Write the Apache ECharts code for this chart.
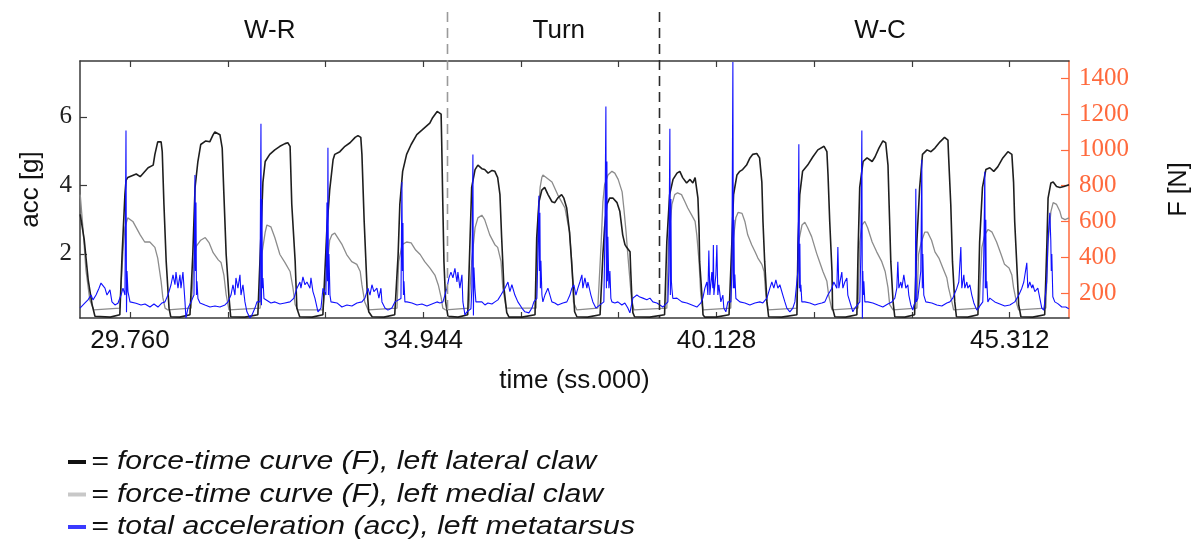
<!DOCTYPE html>
<html>
<head>
<meta charset="utf-8">
<script src="https://cdn.jsdelivr.net/npm/echarts@6/dist/echarts.min.js"></script>
<style>
  html, body { margin: 0; padding: 0; background: #fff; }
  #chart { width: 1192px; height: 546px; }
</style>
</head>
<body>
<div id="chart"></div>
<script>
// time axis (s) and ticks
const timeMin = 28.876, timeMax = 46.36;
const timeTicks = [29.760, 31.488, 33.216, 34.944, 36.672, 38.400, 40.128, 41.856, 43.584, 45.312];
const timeLabels = [29.760, 34.944, 40.128, 45.312];
const accTicks = [2, 4, 6];
const forceTicks = [200, 400, 600, 800, 1000, 1200, 1400];

// phases of the walk
const phaseNames = ['W-R', 'Turn', 'W-C'];
const phaseCenters = [32.23, 37.34, 43.02];
const phaseBounds = [35.37, 39.12];

// force-time curve (F, N), left lateral claw
const lateralForce = [
  [28.88,640],[28.95,500],[29.02,275],[29.09,135],[29.14,70],[29.41,65],
  [29.58,78],[29.62,415],[29.67,750],[29.69,830],[29.72,845],[29.87,865],[29.94,850],[30.08,900],[30.17,915],[30.20,975],[30.25,1045],[30.31,1045],[30.33,990],[30.36,695],[30.40,375],[30.45,115],[30.48,67],[30.64,65],
  [30.82,78],[30.87,415],[30.91,790],[30.96,935],[31.01,1030],[31.10,1050],[31.17,1045],[31.23,1085],[31.26,1100],[31.35,1085],[31.39,1010],[31.42,750],[31.46,415],[31.51,175],[31.54,67],[31.79,65],
  [32.02,78],[32.07,485],[32.11,820],[32.15,935],[32.23,975],[32.32,1000],[32.41,1020],[32.50,1035],[32.55,1040],[32.59,1020],[32.62,695],[32.68,375],[32.71,115],[32.76,67],[32.98,65],
  [33.17,78],[33.24,555],[33.29,775],[33.35,945],[33.38,975],[33.47,990],[33.56,1020],[33.65,1040],[33.74,1070],[33.79,1080],[33.84,1070],[33.86,975],[33.90,600],[33.95,230],[33.98,95],[34.04,67],[34.25,65],
  [34.44,78],[34.50,415],[34.53,695],[34.58,880],[34.65,975],[34.73,1030],[34.83,1085],[34.92,1110],[34.99,1130],[35.06,1150],[35.11,1180],[35.19,1215],[35.22,1225],[35.26,1200],[35.27,1045],[35.29,695],[35.31,375],[35.34,150],[35.38,70],[35.56,65],
  [35.73,78],[35.77,485],[35.80,790],[35.86,890],[35.91,915],[35.98,895],[36.03,890],[36.09,870],[36.16,885],[36.21,880],[36.26,845],[36.30,750],[36.33,510],[36.37,230],[36.42,90],[36.46,65],[36.69,65],
  [36.92,78],[36.95,510],[36.99,710],[37.04,775],[37.09,790],[37.15,750],[37.22,710],[37.27,705],[37.32,730],[37.39,750],[37.43,730],[37.48,675],[37.53,540],[37.59,265],[37.62,95],[37.66,67],[37.85,65],
  [38.07,78],[38.12,415],[38.15,565],[38.19,695],[38.24,730],[38.30,730],[38.37,705],[38.42,655],[38.47,525],[38.51,470],[38.54,455],[38.60,430],[38.61,340],[38.63,190],[38.65,90],[38.68,67],[38.95,65],
  [39.21,78],[39.25,485],[39.30,750],[39.36,835],[39.43,870],[39.48,880],[39.53,845],[39.60,815],[39.66,835],[39.71,815],[39.75,845],[39.78,835],[39.80,730],[39.82,565],[39.83,375],[39.87,190],[39.89,78],[39.92,65],[40.12,65],
  [40.35,78],[40.40,485],[40.43,750],[40.49,860],[40.54,880],[40.59,890],[40.66,915],[40.72,955],[40.77,975],[40.84,980],[40.89,955],[40.93,820],[40.95,600],[40.98,375],[41.02,150],[41.05,67],[41.28,65],
  [41.55,78],[41.57,485],[41.60,750],[41.65,880],[41.74,915],[41.83,960],[41.92,1000],[41.95,1000],[42.03,1020],[42.08,990],[42.10,860],[42.13,600],[42.17,320],[42.18,115],[42.22,67],[42.41,65],
  [42.61,78],[42.63,415],[42.66,790],[42.72,935],[42.79,955],[42.88,935],[42.93,960],[43.00,1010],[43.07,1050],[43.12,1040],[43.16,915],[43.18,695],[43.21,375],[43.25,150],[43.28,67],[43.46,65],
  [43.63,78],[43.67,485],[43.72,790],[43.77,975],[43.85,1000],[43.92,990],[43.99,1010],[44.08,1045],[44.16,1070],[44.22,1055],[44.23,975],[44.27,695],[44.30,375],[44.34,150],[44.37,67],[44.57,65],
  [44.75,78],[44.78,485],[44.83,790],[44.89,890],[44.96,900],[45.03,880],[45.10,905],[45.19,955],[45.28,990],[45.31,1000],[45.35,975],[45.38,820],[45.40,600],[45.44,340],[45.47,135],[45.51,67],[45.72,65],
  [45.93,78],[45.97,485],[45.99,730],[46.04,815],[46.08,820],[46.14,795],[46.20,790],[46.27,795],[46.36,805]
];

// force-time curve (F, N), left medial claw
const medialForce = [
  [28.88,750],[28.93,555],[28.98,330],[29.05,160],[29.12,105],
  [29.58,115],[29.64,455],[29.67,565],[29.72,620],[29.81,600],[29.94,525],[30.02,485],[30.11,485],[30.20,455],[30.25,395],[30.31,265],[30.34,175],[30.38,115],[30.43,105],
  [30.84,115],[30.89,375],[30.93,460],[31.01,495],[31.09,510],[31.16,480],[31.23,425],[31.32,385],[31.37,370],[31.42,300],[31.46,190],[31.51,105],
  [32.06,115],[32.09,415],[32.15,540],[32.18,580],[32.25,570],[32.32,510],[32.41,415],[32.50,370],[32.59,320],[32.64,230],[32.68,135],[32.73,105],
  [33.17,105],[33.24,330],[33.29,495],[33.33,525],[33.38,535],[33.51,470],[33.59,415],[33.68,375],[33.77,360],[33.83,320],[33.86,245],[33.91,150],[33.97,105],
  [34.48,115],[34.51,375],[34.57,470],[34.65,485],[34.73,480],[34.81,440],[34.89,415],[34.97,375],[35.06,340],[35.15,300],[35.21,245],[35.26,175],[35.29,115],[35.34,105],
  [35.75,115],[35.80,375],[35.86,565],[35.91,620],[35.98,635],[36.03,610],[36.12,525],[36.21,470],[36.26,455],[36.32,375],[36.35,230],[36.41,115],[36.44,105],
  [36.94,115],[36.97,600],[37.01,790],[37.04,845],[37.06,860],[37.09,850],[37.22,820],[37.32,750],[37.45,675],[37.53,540],[37.57,375],[37.60,150],[37.66,105],
  [38.03,115],[38.09,485],[38.12,710],[38.15,805],[38.21,860],[38.28,880],[38.33,870],[38.39,835],[38.46,765],[38.49,675],[38.53,540],[38.56,415],[38.60,265],[38.63,150],[38.67,105],
  [39.25,115],[39.28,485],[39.34,695],[39.39,750],[39.44,760],[39.51,750],[39.57,710],[39.62,675],[39.69,635],[39.75,600],[39.78,525],[39.82,375],[39.85,190],[39.89,105],
  [40.38,115],[40.42,485],[40.47,620],[40.51,650],[40.58,645],[40.63,600],[40.68,525],[40.75,470],[40.81,430],[40.86,395],[40.93,360],[40.97,320],[41.00,190],[41.04,105],
  [41.55,115],[41.58,485],[41.64,580],[41.69,595],[41.74,565],[41.81,515],[41.90,420],[41.95,375],[42.01,320],[42.08,265],[42.11,190],[42.17,105],
  [42.63,115],[42.66,485],[42.70,580],[42.75,600],[42.80,565],[42.88,485],[42.96,430],[43.05,375],[43.11,320],[43.16,230],[43.19,135],[43.25,105],
  [43.67,115],[43.70,415],[43.75,485],[43.81,540],[43.86,540],[43.93,495],[43.99,430],[44.06,395],[44.13,340],[44.20,285],[44.23,230],[44.29,150],[44.32,105],
  [44.77,115],[44.82,455],[44.87,525],[44.93,555],[45.00,540],[45.08,485],[45.16,415],[45.22,360],[45.30,340],[45.35,300],[45.38,230],[45.44,135],[45.47,105],
  [45.95,115],[45.99,485],[46.04,655],[46.08,705],[46.14,695],[46.20,655],[46.23,620],[46.29,610],[46.36,620]
];

// total acceleration (acc, g), left metatarsus
const accTotal = [
  [28.876,0.42],[28.894,0.45],[28.964,0.57],[29.017,0.66],[29.071,0.80],[29.106,0.66],[29.159,0.80],[29.212,1.0],[29.247,1.15],[29.282,1.10],[29.317,1.0],[29.353,0.80],[29.406,0.95],[29.441,0.60],[29.494,0.51],[29.547,0.56],[29.601,0.80],[29.636,1.0],[29.671,0.8],
  [29.689,5.6],[29.698,0.3],[29.707,1.5],[29.724,0.9],[29.760,0.6],[29.866,0.56],[29.954,0.51],[30.025,0.54],[30.113,0.45],[30.184,0.54],[30.254,0.45],[30.325,0.57],[30.378,0.6],[30.431,0.8],
  [30.485,1.1],[30.520,1.39],[30.555,1.1],[30.573,1.47],[30.608,1.0],[30.643,1.39],[30.661,1.0],[30.696,1.47],[30.732,0.6],[30.749,0.13],[30.785,0.42],[30.838,0.6],[30.891,0.8],
  [30.908,4.3],[30.917,1.5],[30.926,3.5],[30.935,0.8],[30.944,1.2],[30.961,0.7],[30.997,0.57],[31.085,0.51],[31.174,0.45],[31.262,0.48],[31.350,0.45],[31.439,0.51],[31.492,0.6],[31.545,0.8],
  [31.580,1.1],[31.615,0.8],[31.633,1.3],[31.668,1.0],[31.704,1.39],[31.722,0.8],[31.757,1.1],[31.792,0.6],[31.827,0.31],[31.881,0.13],[31.916,0.22],[31.969,0.42],[32.004,0.6],[32.057,0.6],
  [32.075,5.8],[32.084,0.5],[32.092,3.6],[32.101,1.0],[32.110,1.3],[32.128,0.7],[32.163,0.66],[32.252,0.57],[32.322,0.6],[32.411,0.54],[32.499,0.57],[32.588,0.6],[32.658,0.71],[32.711,1.0],
  [32.764,1.18],[32.782,1.0],[32.817,1.33],[32.853,1.1],[32.888,1.18],[32.941,1.0],[32.959,1.3],[32.994,0.9],[33.029,0.71],[33.083,0.31],[33.136,0.42],[33.171,1.0],[33.224,0.8],
  [33.242,3.5],[33.251,1.2],[33.259,5.1],[33.268,0.8],[33.277,2.0],[33.295,0.8],[33.313,0.6],[33.330,0.6],[33.419,0.57],[33.506,0.45],[33.595,0.51],[33.683,0.48],[33.772,0.57],[33.860,0.6],[33.913,0.71],
  [33.966,1.0],[34.002,0.8],[34.037,1.1],[34.072,0.9],[34.125,1.0],[34.160,0.71],[34.196,1.0],[34.214,0.6],[34.267,0.42],[34.320,0.36],[34.390,0.42],[34.443,0.6],[34.550,0.7],
  [34.567,4.1],[34.576,1.5],[34.585,2.9],[34.594,0.8],[34.603,1.2],[34.620,0.6],[34.656,0.6],[34.744,0.57],[34.833,0.51],[34.921,0.54],[35.009,0.48],[35.098,0.54],[35.186,0.6],[35.239,0.57],[35.292,0.6],
  [35.363,1.0],[35.398,1.3],[35.434,1.47],[35.469,1.3],[35.504,1.58],[35.540,1.18],[35.557,1.47],[35.592,1.0],[35.628,1.39],[35.645,0.6],[35.681,0.22],[35.716,0.31],[35.787,0.4],[35.804,1.0],
  [35.822,4.9],[35.831,0.2],[35.840,1.6],[35.857,1.0],[35.875,0.6],[35.910,0.57],[35.981,0.6],[36.034,0.51],[36.087,0.57],[36.158,0.54],[36.211,0.6],[36.264,0.66],[36.317,0.8],
  [36.388,1.0],[36.441,1.18],[36.476,0.9],[36.511,1.1],[36.564,0.8],[36.617,0.6],[36.688,0.42],[36.741,0.31],[36.812,0.28],[36.865,0.42],[36.900,0.6],[36.953,0.7],
  [36.971,2.0],[36.989,3.7],[36.998,1.5],[37.006,3.2],[37.015,1.0],[37.024,1.8],[37.042,0.8],[37.059,0.6],[37.095,0.8],[37.148,1.0],[37.218,0.6],[37.271,0.57],[37.324,0.51],[37.413,0.57],[37.483,0.6],[37.537,0.8],
  [37.572,1.0],[37.607,1.1],[37.643,0.8],[37.678,1.0],[37.713,1.18],[37.749,1.39],[37.766,1.0],[37.802,1.3],[37.837,1.0],[37.855,1.18],[37.908,0.8],[37.943,0.6],[37.996,0.42],[38.031,0.45],[38.137,0.6],
  [38.155,2.5],[38.173,6.3],[38.182,1.0],[38.191,4.7],[38.199,1.2],[38.208,2.5],[38.226,1.0],[38.244,1.5],[38.261,0.7],[38.279,0.6],[38.332,0.57],[38.385,0.6],[38.455,0.51],[38.508,0.57],[38.561,0.42],[38.597,0.28],
  [38.650,0.71],[38.721,0.8],[38.774,0.74],[38.827,0.71],[38.897,0.66],[38.951,0.71],[39.004,0.6],[39.074,0.57],[39.127,0.51],[39.180,0.45],[39.269,0.6],
  [39.286,1.5],[39.304,5.65],[39.313,0.8],[39.322,3.6],[39.331,1.2],[39.339,1.0],[39.357,0.7],[39.428,0.71],[39.516,0.6],[39.605,0.57],[39.693,0.51],[39.782,0.45],[39.852,0.57],[39.887,0.71],
  [39.923,1.0],[39.958,1.18],[39.976,0.8],[39.993,2.1],[40.011,0.8],[40.046,1.47],[40.064,1.0],[40.073,2.26],[40.082,0.8],[40.117,1.39],[40.135,2.26],[40.152,0.8],[40.170,1.1],[40.205,0.6],[40.241,0.8],[40.258,0.42],[40.294,0.31],[40.329,0.6],[40.382,0.6],
  [40.400,1.5],[40.418,7.6],[40.427,1.0],[40.436,3.0],[40.445,1.0],[40.453,1.4],[40.471,0.7],[40.541,0.6],[40.630,0.57],[40.718,0.51],[40.807,0.57],[40.895,0.6],[40.948,0.57],[41.019,0.71],
  [41.072,1.0],[41.107,1.18],[41.142,1.0],[41.178,1.24],[41.213,1.0],[41.248,1.1],[41.301,0.8],[41.337,0.6],[41.372,0.42],[41.425,0.31],[41.478,0.42],[41.514,0.6],[41.549,0.6],
  [41.567,1.5],[41.584,5.2],[41.593,1.0],[41.602,2.3],[41.611,0.9],[41.620,1.1],[41.637,0.6],[41.690,0.6],[41.779,0.57],[41.867,0.51],[41.920,0.54],[41.991,0.57],[42.044,0.6],[42.097,0.8],
  [42.168,1.0],[42.203,1.18],[42.256,1.0],[42.274,2.2],[42.291,1.0],[42.344,1.47],[42.362,1.0],[42.397,1.18],[42.433,1.3],[42.450,0.8],[42.503,0.51],[42.539,0.31],[42.574,0.42],[42.662,0.6],
  [42.680,2.0],[42.698,5.6],[42.707,0.1],[42.715,1.5],[42.724,0.8],[42.733,1.2],[42.751,0.6],[42.804,0.6],[42.892,0.57],[42.980,0.51],[43.069,0.45],[43.157,0.54],[43.228,0.6],[43.281,0.71],
  [43.316,1.0],[43.334,1.77],[43.352,1.0],[43.387,1.18],[43.405,1.0],[43.440,1.39],[43.475,1.0],[43.511,1.1],[43.528,0.8],[43.564,0.51],[43.599,0.36],[43.617,0.5],[43.643,0.6],
  [43.652,3.9],[43.661,0.6],[43.687,0.7],[43.740,1.5],[43.758,4.75],[43.767,1.0],[43.776,2.0],[43.793,0.8],[43.829,0.6],[43.846,0.6],[43.935,0.57],[44.023,0.51],[44.112,0.48],[44.200,0.57],[44.253,0.6],[44.306,0.71],
  [44.377,1.0],[44.412,1.18],[44.448,2.2],[44.465,1.0],[44.501,1.39],[44.518,1.0],[44.554,1.18],[44.571,1.0],[44.607,1.1],[44.642,0.8],[44.678,0.57],[44.730,0.36],[44.836,0.6],
  [44.854,2.0],[44.872,4.4],[44.880,1.0],[44.889,3.0],[44.898,1.0],[44.907,1.2],[44.925,0.6],[44.960,0.71],[45.048,0.6],[45.137,0.54],[45.225,0.48],[45.314,0.51],[45.402,0.6],[45.473,0.8],
  [45.526,1.0],[45.561,1.18],[45.614,1.74],[45.632,1.0],[45.667,1.18],[45.703,1.0],[45.720,1.1],[45.756,0.9],[45.809,1.0],[45.844,0.71],[45.879,0.42],[45.914,0.36],[45.932,0.6],
  [45.967,1.2],[45.985,2.2],[46.003,2.8],[46.021,3.2],[46.038,2.4],[46.047,1.5],[46.056,2.0],[46.074,0.75],[46.109,0.6],[46.162,0.55],[46.233,0.45],[46.303,0.45],[46.356,0.4]
];

const legendItems = [
  { text: '= force-time curve (F), left lateral claw', color: '#111111' },
  { text: '= force-time curve (F), left medial claw', color: '#c8c8c8' },
  { text: '= total acceleration (acc), left metatarsus', color: '#3a3aff' }
];

const frameColor = '#3a3a3a';
const orange = '#ff6a3d';
const sansFont = '"Liberation Sans", Arial, sans-serif';
const serifFont = '"Liberation Serif", "Times New Roman", serif';

const chart = echarts.init(document.getElementById('chart'));

const option = {
  animation: false,
  backgroundColor: '#ffffff',
  grid: { left: 80, right: 123, top: 61, bottom: 228, containLabel: false, outerBoundsMode: 'none' },
  xAxis: [
    {
      type: 'value', position: 'bottom', min: timeMin, max: timeMax,
      axisLine: { show: true, lineStyle: { color: frameColor, width: 1.5 } },
      axisTick: { show: true, inside: true, length: 6, customValues: timeTicks, lineStyle: { color: frameColor, width: 1.2 } },
      axisLabel: {
        show: true, customValues: timeLabels, margin: 10,
        color: '#111', fontSize: 26, fontFamily: sansFont,
        formatter: v => v.toFixed(3)
      },
      splitLine: { show: false },
      name: 'time (ss.000)', nameLocation: 'middle', nameGap: 50,
      nameTextStyle: { color: '#111', fontSize: 26, fontFamily: sansFont }
    },
    {
      type: 'value', position: 'top', min: timeMin, max: timeMax,
      axisLine: { show: true, lineStyle: { color: frameColor, width: 1.5 } },
      axisTick: { show: true, inside: true, length: 6, customValues: timeTicks, lineStyle: { color: frameColor, width: 1.2 } },
      axisLabel: { show: false },
      splitLine: { show: false }
    }
  ],
  yAxis: [
    {
      type: 'value', position: 'left', min: 0.13, max: 7.63,
      axisLine: { show: true, lineStyle: { color: frameColor, width: 1.5 } },
      axisTick: { show: true, inside: true, length: 7, customValues: accTicks, lineStyle: { color: frameColor, width: 1.2 } },
      axisLabel: { show: true, customValues: accTicks, margin: 8, color: '#222', fontSize: 25, fontFamily: serifFont },
      splitLine: { show: false },
      name: 'acc [g]', nameLocation: 'middle', nameRotate: 90, nameGap: 36,
      nameTextStyle: { color: '#111', fontSize: 26, fontFamily: sansFont }
    },
    {
      type: 'value', position: 'right', min: 60, max: 1497,
      axisLine: { show: true, lineStyle: { color: orange, width: 1.5 } },
      axisTick: { show: true, inside: true, length: 8, customValues: forceTicks, lineStyle: { color: orange, width: 1.2 } },
      axisLabel: {
        show: true, customValues: forceTicks, margin: 10, color: orange, fontSize: 25, fontFamily: serifFont,
        formatter: v => String(v)
      },
      splitLine: { show: false },
      name: 'F [N]', nameLocation: 'middle', nameRotate: 90, nameGap: 98,
      nameTextStyle: { color: '#111', fontSize: 25, fontFamily: sansFont }
    }
  ],
  series: [
    {
      name: 'medial', type: 'line', xAxisIndex: 0, yAxisIndex: 1, data: medialForce,
      showSymbol: false, lineStyle: { color: '#8c8c8c', width: 1.3 }, z: 2
    },
    {
      name: 'lateral', type: 'line', xAxisIndex: 0, yAxisIndex: 1, data: lateralForce,
      showSymbol: false, lineStyle: { color: '#1e1e1e', width: 1.6 }, z: 3
    },
    {
      name: 'acc', type: 'line', xAxisIndex: 0, yAxisIndex: 0, data: accTotal,
      showSymbol: false, lineStyle: { color: '#1010ff', width: 1.1 }, z: 4
    }
  ]
};

chart.setOption(option);

// phase labels and separators above the plot
const toX = t => chart.convertToPixel({ xAxisIndex: 0 }, t);
const plotBottom = chart.convertToPixel({ yAxisIndex: 1 }, 60);
const graphics = [];

phaseBounds.forEach((t, i) => {
  const x = Math.round(toX(t)) + 0.5;
  graphics.push({
    type: 'line', z: 100,
    shape: { x1: x, y1: 12, x2: x, y2: plotBottom },
    style: { stroke: i === 0 ? '#9a9a9a' : '#2a2a2a', lineWidth: 1.6, lineDash: [10, 6] }
  });
});

phaseNames.forEach((name, i) => {
  graphics.push({
    type: 'text', z: 100,
    x: toX(phaseCenters[i]), y: 31,
    style: { text: name, fill: '#111', font: '26px ' + sansFont, align: 'center', verticalAlign: 'middle' }
  });
});

// legend below the chart
legendItems.forEach((item, i) => {
  const y = 462 + i * 32.5;
  graphics.push({
    type: 'rect', z: 100,
    shape: { x: 68, y: y - 2, width: 18, height: 4 },
    style: { fill: item.color }
  });
  graphics.push({
    type: 'text', z: 100,
    x: 91, y: y, scaleX: 1.16,
    style: { text: item.text, fill: '#111', font: 'italic 26px ' + sansFont, align: 'left', verticalAlign: 'middle' }
  });
});

chart.setOption({ graphic: graphics });
</script>
</body>
</html>
